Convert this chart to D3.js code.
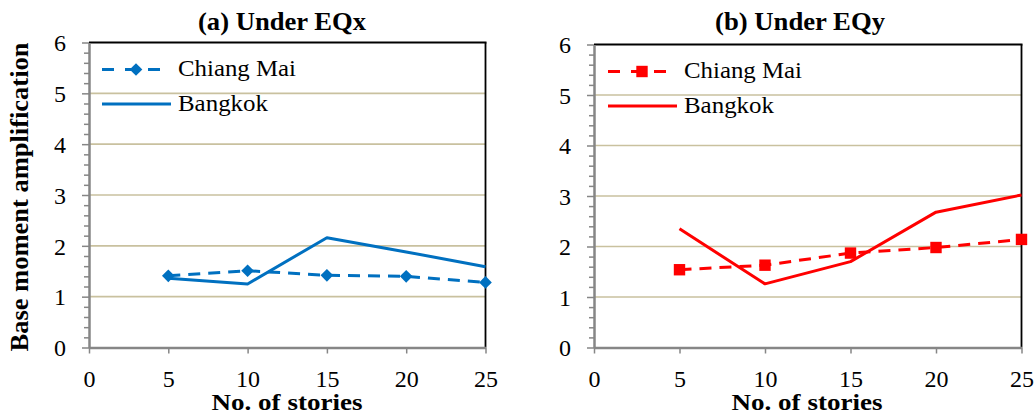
<!DOCTYPE html>
<html><head><meta charset="utf-8">
<script src="https://cdn.jsdelivr.net/npm/d3@7/dist/d3.min.js"></script>
<style>
body{margin:0;background:#fff}svg{display:block}
</style>
</head><body>
<svg id="c" width="1035" height="415"></svg>
<script>
const stories = [5, 10, 15, 20, 25];
const eqxChiangMai = [1.41, 1.51, 1.42, 1.40, 1.28];
const eqxBangkok = [1.36, 1.25, 2.16, 1.88, 1.59];
const eqyChiangMai = [1.54, 1.63, 1.87, 1.98, 2.14];
const eqyBangkok = [2.35, 1.26, 1.70, 2.68, 3.02];
const xTicks = [0, 5, 10, 15, 20, 25];
const yTicks = [0, 1, 2, 3, 4, 5, 6];
const yMinorTicks = d3.range(0, 30).map(i => i * 0.2).filter(v => Math.abs(v - Math.round(v)) > 1e-6);
const seriesNames = ["Chiang Mai", "Bangkok"];
const titles = ["(a) Under EQx", "(b) Under EQy"];
const xTitle = "No. of stories";
const yTitle = "Base moment amplification";

const svg = d3.select("#c");
const FONT = "'Liberation Serif', serif";

const panels = [
  {x: [89, 485.5], y: [347.5, 42.5], color: "#0070C0", marker: "diamond",
   cm: eqxChiangMai, bk: eqxBangkok, title: titles[0], titleX: 282, titleW: 168,
   xTitleX: 287, legX: 102, legY1: 69.5, legY2: 104},
  {x: [594, 1021.5], y: [347.5, 44.5], color: "#FF0000", marker: "square",
   cm: eqyChiangMai, bk: eqyBangkok, title: titles[1], titleX: 800, titleW: 170,
   xTitleX: 807, legX: 608, legY1: 71.5, legY2: 106}
];

function txt(sel, size, bold) {
  return sel.attr("font-family", FONT).attr("font-size", size)
    .attr("font-weight", bold ? "bold" : "normal").attr("fill", "#000");
}

panels.forEach((p, pi) => {
  const x = d3.scaleLinear().domain([0, 25]).range(p.x);
  const y = d3.scaleLinear().domain([0, 6]).range(p.y);
  const g = svg.append("g");

  g.selectAll(".grid").data(yTicks.filter(v => v > 0 && v < 6)).join("line")
    .attr("x1", p.x[0]).attr("x2", p.x[1])
    .attr("y1", d => y(d)).attr("y2", d => y(d))
    .attr("stroke", "#C9C19F").attr("stroke-width", 1.6);

  g.append("line").attr("x1", p.x[0]).attr("x2", p.x[1] + 1).attr("y1", p.y[1]).attr("y2", p.y[1])
    .attr("stroke", "#000").attr("stroke-width", 1.8);
  g.append("line").attr("x1", p.x[1]).attr("x2", p.x[1]).attr("y1", p.y[1]).attr("y2", p.y[0])
    .attr("stroke", "#000").attr("stroke-width", 1.8);

  const yMinor = g.append("g").attr("transform", `translate(${p.x[0]},0)`)
    .call(d3.axisLeft(y).tickValues(yMinorTicks).tickSize(5).tickFormat(""));
  yMinor.select(".domain").remove();
  yMinor.selectAll("line").attr("stroke", "#868686").attr("stroke-width", 1.5);

  const yAx = g.append("g").attr("transform", `translate(${p.x[0]},0)`)
    .call(d3.axisLeft(y).tickValues(yTicks).tickSize(7).tickSizeOuter(0).tickPadding(16).tickFormat(d3.format("d")));
  yAx.attr("font-family", FONT).attr("font-size", 24);
  yAx.select(".domain").attr("stroke", "#868686").attr("stroke-width", 2.5);
  yAx.selectAll("line").attr("stroke", "#868686").attr("stroke-width", 1.5);
  txt(yAx.selectAll("text"), 24, false).attr("dy", "0.34em");

  const xAx = g.append("g").attr("transform", `translate(0,${p.y[0]})`)
    .call(d3.axisBottom(x).tickValues(xTicks).tickSize(6).tickSizeOuter(0).tickPadding(16).tickFormat(d3.format("d")));
  xAx.attr("font-family", FONT).attr("font-size", 24);
  xAx.select(".domain").attr("stroke", "#868686").attr("stroke-width", 2.5);
  xAx.selectAll("line").attr("stroke", "#868686").attr("stroke-width", 1.5);
  txt(xAx.selectAll("text"), 24, false);

  const line = d3.line().x((d, i) => x(stories[i])).y(d => y(d));
  g.append("path").datum(p.bk).attr("d", line).attr("fill", "none")
    .attr("stroke", p.color).attr("stroke-width", 3).attr("stroke-linejoin", "round");
  g.append("path").datum(p.cm).attr("d", line).attr("fill", "none")
    .attr("stroke", p.color).attr("stroke-width", 3).attr("stroke-dasharray", "12,8");

  const sym = p.marker === "diamond" ? d3.symbol().type(d3.symbolSquare).size(80) : d3.symbol().type(d3.symbolSquare).size(130);
  g.selectAll(".mk").data(p.cm).join("path")
    .attr("d", sym)
    .attr("transform", (d, i) => `translate(${x(stories[i])},${y(d)})` + (p.marker === "diamond" ? " rotate(45)" : ""))
    .attr("fill", p.color);

  g.append("line").attr("x1", p.legX).attr("x2", p.legX + 68).attr("y1", p.legY1).attr("y2", p.legY1)
    .attr("stroke", p.color).attr("stroke-width", 3).attr("stroke-dasharray", "12,11");
  g.append("path").attr("d", sym)
    .attr("transform", `translate(${p.legX + 34},${p.legY1})` + (p.marker === "diamond" ? " rotate(45)" : ""))
    .attr("fill", p.color);
  g.append("line").attr("x1", p.legX).attr("x2", p.legX + 69).attr("y1", p.legY2).attr("y2", p.legY2)
    .attr("stroke", p.color).attr("stroke-width", 3);
  txt(g.append("text"), 24, false).attr("x", p.legX + 76).attr("y", p.legY1 + 6).text(seriesNames[0])
    .attr("textLength", 118).attr("lengthAdjust", "spacingAndGlyphs");
  txt(g.append("text"), 24, false).attr("x", p.legX + 76).attr("y", p.legY2 + 7).text(seriesNames[1])
    .attr("textLength", 90).attr("lengthAdjust", "spacingAndGlyphs");

  txt(g.append("text"), 25, true).attr("x", p.titleX).attr("y", 30).attr("text-anchor", "middle").text(p.title)
    .attr("textLength", p.titleW).attr("lengthAdjust", "spacingAndGlyphs");
  txt(g.append("text"), 24, true).attr("x", p.xTitleX).attr("y", 410).attr("text-anchor", "middle").text(xTitle)
    .attr("textLength", 151).attr("lengthAdjust", "spacingAndGlyphs");
});

txt(svg.append("text"), 25, true).attr("transform", "translate(28,197) rotate(-90)").attr("text-anchor", "middle")
  .text(yTitle).attr("textLength", 309).attr("lengthAdjust", "spacingAndGlyphs");
</script>
</body></html>
